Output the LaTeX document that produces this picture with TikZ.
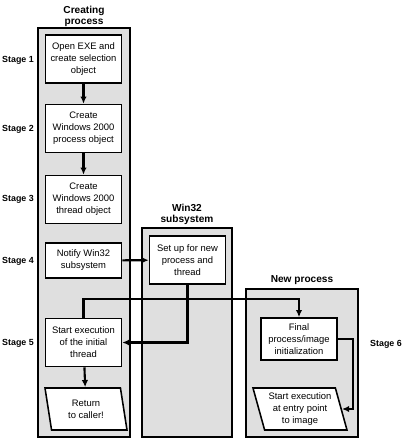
\documentclass[tikz,border=0pt]{standalone}
\usepackage{fontspec}
\setmainfont{Liberation Sans}
\usetikzlibrary{arrows.meta, shapes.geometric}
\definecolor{clane}{HTML}{DFDFDF}
\tikzset{
  every picture/.style={line width=1.1pt},
  box/.style={draw, fill=white, align=center, inner sep=1pt, minimum width=1.9cm, minimum height=1.2cm, font=\fontsize{6.7}{8.6}\selectfont},
  io/.style={box, trapezium, trapezium left angle=107, trapezium right angle=73, trapezium stretches body, minimum height=1.05cm},
  lane/.style={draw, fill=clane, line width=0.9pt},
  arrow/.style={-{Latex[length=1.8mm, width=1.6mm]}, line width=1.5pt},
  title/.style={font=\bfseries\fontsize{7.2}{7.9}\selectfont, align=center},
  stage/.style={font=\bfseries\fontsize{6.3}{7}\selectfont},
}

\begin{document}
\begin{tikzpicture}[x=0.25mm, y=-0.25mm]
  \useasboundingbox (0,0) rectangle (404,439);
  % swim lanes
  \draw[lane] (38,28) rectangle (130,437);
  \draw[lane] (142,228) rectangle (232,437);
  \draw[lane] (246,289) rectangle (358,437);
  \node[title] (tc) at (84,16) {Creating\\process};
  \node[title] (tw) at (187,214) {Win32\\subsystem};
  \node[title] (tn) at (302,280) {New process};
  % stages
  \node[stage] (s1) at (18,60) {Stage 1};
  \node[stage] (s2) at (18,129) {Stage 2};
  \node[stage] (s3) at (18,199) {Stage 3};
  \node[stage] (s4) at (18,261) {Stage 4};
  \node[stage] (s5) at (18,343) {Stage 5};
  \node[stage] (s6) at (386,344) {Stage 6};
  % creating process
  \node[box] (open) at (83.5,59) {Open EXE and\\create selection\\object};
  \node[box] (proc) at (83.5,128.5) {Create\\Windows 2000\\process object};
  \node[box] (thr) at (83.5,199.5) {Create\\Windows 2000\\thread object};
  \node[box, minimum height=0.875cm] (notify) at (83.5,260.5) {Notify Win32\\subsystem};
  \node[box] (start) at (83.5,342.5) {Start execution\\of the initial\\thread};
  \node[io, minimum width=2.05cm] (ret) at (86,409) {Return\\to caller!};
  % win32 and new process
  \node[box] (setup) at (187.5,260) {Set up for new\\process and\\thread};
  \node[box, minimum height=1.05cm] (final) at (299,339) {Final\\process/image\\initialization};
  \node[io, trapezium left angle=108, trapezium right angle=72, minimum width=2.35cm] (entry) at (300,409) {Start execution\\at entry point\\to image};
  % flow
  \draw[arrow] (open) -- (proc);
  \draw[arrow] (proc) -- (thr);
  \draw[arrow] (notify) -- (setup);
  \draw[arrow] (setup.south) |- (start.east);
  \draw[arrow] (start.north) -- ++(0,-19) -| (final.north);
  \draw[arrow] (start) -- (ret);
  \draw[arrow] (final.east) -- ++(15,0) |- (entry.east);
\end{tikzpicture}
\end{document}
